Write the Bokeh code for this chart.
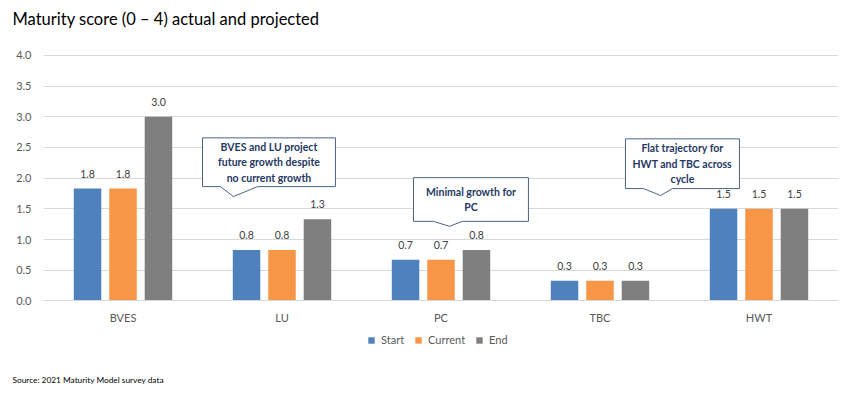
from bokeh.plotting import figure
from bokeh.models import (FactorRange, Range1d, Legend, LegendItem, Title, ColumnDataSource,
                          LabelSet, FixedTicker, NumeralTickFormatter)
from bokeh.transform import dodge
from bokeh.core.properties import value
from bokeh.embed import file_html
from bokeh.resources import INLINE

# ---- data ----
categories = ["BVES", "LU", "PC", "TBC", "HWT"]
series = ["Start", "Current", "End"]
start = [1.83, 0.83, 0.67, 0.33, 1.5]
current = [1.83, 0.83, 0.67, 0.33, 1.5]
end = [3.0, 1.33, 0.83, 0.33, 1.5]
y_ticks = [0.0, 0.5, 1.0, 1.5, 2.0, 2.5, 3.0, 3.5, 4.0]

callout_text = ["BVES and LU project\nfuture growth despite\nno current growth",
                "Minimal growth for\nPC",
                "Flat trajectory for\nHWT and TBC across\ncycle"]

# ---- styles / layout ----
colors = ["#4F81BD", "#F79646", "#7F7F7F"]
offsets = [-0.223, 0.0, 0.223]
bar_w = 0.173
FONT = "Lato"

# callout geometry (data space)
c_left = [1.0, 2.327, 3.660]
c_right = [1.836, 3.050, 4.377]
c_top = [2.656, 2.008, 2.640]
c_bottom = [1.862, 1.296, 1.830]
p_base_l = [1.113, 2.453, 3.774]
p_base_r = [1.346, 2.635, 3.956]
p_tip_x = [1.195, 2.553, 3.881]
p_tip_y = [1.70, 1.215, 1.717]

src = ColumnDataSource(dict(cat=categories, Start=start, Current=current, End=end,
                            Start_l=[f"{v:.1f}" for v in start],
                            Current_l=[f"{v:.1f}" for v in current],
                            End_l=[f"{v:.1f}" for v in end]))

p = figure(width=842, height=392, x_range=FactorRange(*categories), y_range=Range1d(-1.101, 4.340),
           output_backend="svg", toolbar_location=None,
           min_border_left=43, min_border_right=4, min_border_top=34, min_border_bottom=22)
p.outline_line_color = None
p.background_fill_color = "white"
p.border_fill_color = "white"

p.title.text = "Maturity score (0 \u2013 4) actual and projected"
p.title.text_font = FONT
p.title.text_font_size = "16.5px"
p.title.text_font_style = "normal"
p.title.text_color = "#000000"
p.title.offset = -31
p.title.standoff = 12

renderers = []
for s, c, o in zip(series, colors, offsets):
    r = p.vbar(x=dodge("cat", o, range=p.x_range), top=s, width=bar_w, source=src,
               fill_color=c, line_color=None)
    renderers.append(r)
    ls = LabelSet(x=dodge("cat", o, range=p.x_range), y=s, text=s + "_l", source=src,
                  text_align="center", text_baseline="bottom", y_offset=11,
                  text_font=value(FONT), text_font_size="10.5px", text_color="#404040")
    p.add_layout(ls)

# callouts
xs, ys, tx, ty = [], [], [], []
for i in range(len(callout_text)):
    xs.append([c_left[i], c_right[i], c_right[i], p_base_r[i], p_tip_x[i], p_base_l[i], c_left[i]])
    ys.append([c_top[i], c_top[i], c_bottom[i], c_bottom[i], p_tip_y[i], c_bottom[i], c_bottom[i]])
    tx.append((c_left[i] + c_right[i]) / 2)
    ty.append((c_top[i] + c_bottom[i]) / 2)
p.patches(xs, ys, fill_color="white", line_color="#4A6487", line_width=1)
p.text(x=tx, y=ty, text=callout_text, text_align="center", text_baseline="middle",
       text_font=value(FONT), text_font_size="10.5px", text_font_style="bold",
       text_color="#1F3864", text_line_height=1.3)

# axes
p.yaxis.ticker = FixedTicker(ticks=y_ticks)
p.yaxis.formatter = NumeralTickFormatter(format="0.0")
p.yaxis.axis_line_color = None
p.yaxis.major_tick_line_color = None
p.yaxis.minor_tick_line_color = None
p.yaxis.major_label_text_font = FONT
p.yaxis.major_label_text_font_size = "11px"
p.yaxis.major_label_text_color = "#595959"
p.yaxis.major_label_standoff = 6

p.xaxis.fixed_location = 0
p.xaxis.axis_line_color = "#D9D9D9"
p.xaxis.major_tick_line_color = None
p.xaxis.minor_tick_line_color = None
p.xaxis.major_label_text_font = FONT
p.xaxis.major_label_text_font_size = "11px"
p.xaxis.major_label_text_color = "#595959"
p.xaxis.major_label_standoff = 4

p.xgrid.grid_line_color = None
p.ygrid.grid_line_color = "#D9D9D9"

legend = Legend(items=[LegendItem(label=s, renderers=[r]) for s, r in zip(series, renderers)],
                orientation="horizontal", location=(324, 22),
                label_text_font=FONT, label_text_font_size="11px", label_text_color="#595959",
                glyph_width=8, glyph_height=8, spacing=10, label_standoff=6,
                border_line_color=None, background_fill_alpha=0, padding=2, margin=0)
p.add_layout(legend, "center")

src_title = Title(text="Source: 2021 Maturity Model survey data", text_font=FONT,
                  text_font_size="8.3px", text_font_style="normal", text_color="#000000",
                  align="left", offset=-31, standoff=12, vertical_align="top")
p.add_layout(src_title, "below")

open("out.html", "w").write(file_html(p, INLINE))
